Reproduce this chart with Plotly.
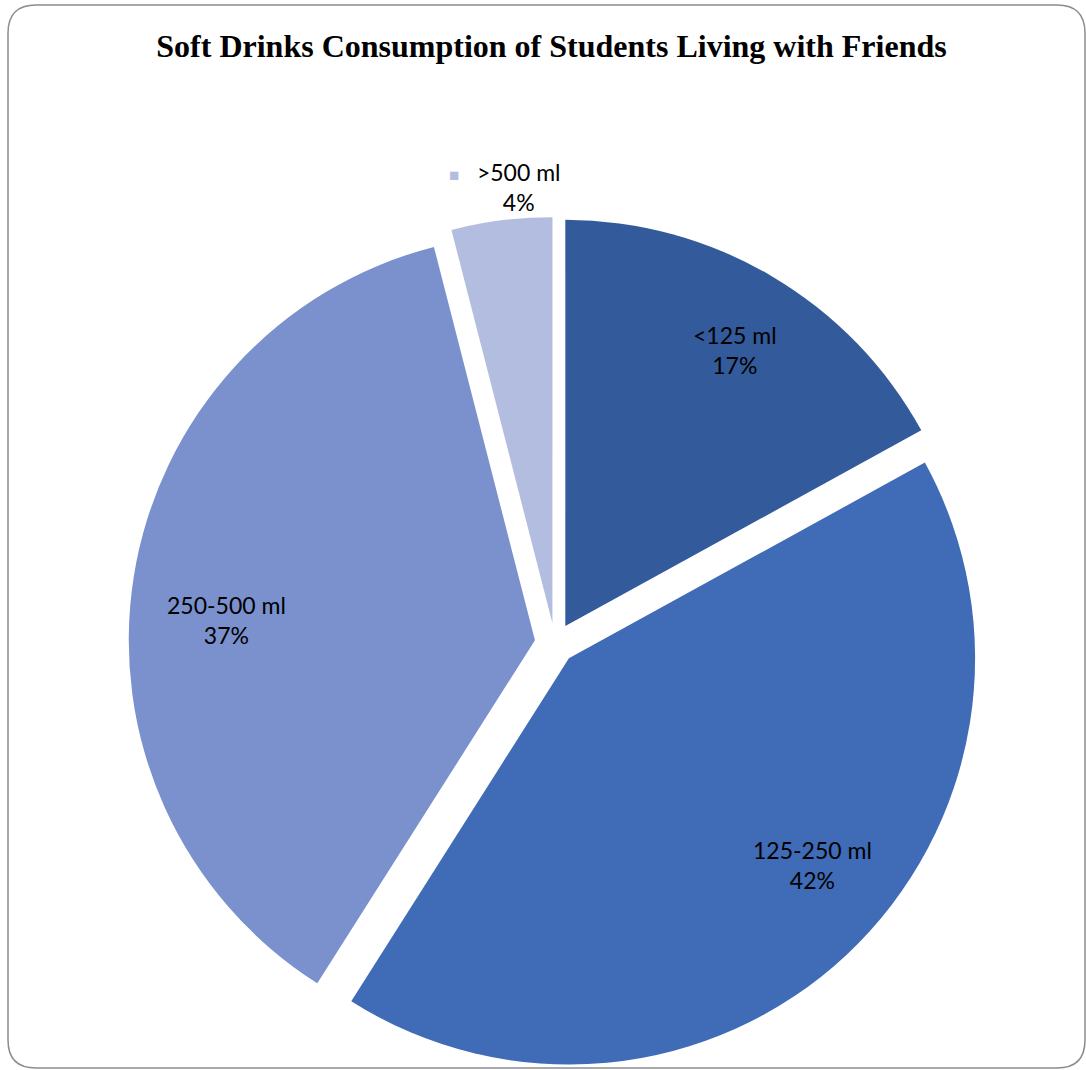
import math
import plotly.graph_objects as go

categories = ["<125 ml", "125-250 ml", "250-500 ml", ">500 ml"]
values = [17, 42, 37, 4]
colors = ["#335A9A", "#406BB7", "#7A91CE", "#B3BDE0"]
title = "Soft Drinks Consumption of Students Living with Friends"

W, H = 1086, 1070
PULL = 0.05
# label placement style: radial fraction of pie radius and small angle shift (deg)
label_radius = [0.848, 0.837, 0.81, 1.13]
label_shift = [0.9, -6.1, -4.9, 1.0]

def px(x):
    return x / W

def py(y):
    return 1 - y / H

dom_x = [px(125), px(985)]
dom_y = [py(1070), py(217)]

fig = go.Figure(go.Pie(
    labels=categories,
    values=values,
    sort=False,
    direction="clockwise",
    rotation=0,
    pull=[PULL] * len(values),
    marker=dict(colors=colors, line=dict(width=0)),
    textinfo="none",
    hoverinfo="label+percent",
    domain=dict(x=dom_x, y=dom_y),
    showlegend=False,
))

# label annotations positioned from each slice's mid-angle
cx = (dom_x[0] + dom_x[1]) / 2 * W
cy = (1 - (dom_y[0] + dom_y[1]) / 2) * H
r = min((dom_x[1] - dom_x[0]) * W, (dom_y[1] - dom_y[0]) * H) / 2 / (1 + PULL)
total = sum(values)
annotations = []
cum = 0
for i, (lab, v) in enumerate(zip(categories, values)):
    mid = (cum + v / 2) / total * 2 * math.pi + math.radians(label_shift[i])
    cum += v
    d = label_radius[i] * r
    x = cx + d * math.sin(mid)
    y = cy - d * math.cos(mid)
    pct = "%d%%" % round(100 * v / total)
    if label_radius[i] > 1:
        key = "<span style='color:%s;font-size:17px'>■</span>   " % colors[i]
        ghost = "<span style='color:rgba(0,0,0,0);font-size:17px'>■</span>   "
        text = key + lab + "<br>" + ghost + pct
    else:
        text = "%s<br>%s" % (lab, pct)
    annotations.append(dict(
        x=x / W, y=1 - y / H, xref="paper", yref="paper",
        text=text, showarrow=False, xanchor="center", yanchor="middle",
        align="center", font=dict(family="Lato", size=23, color="black"),
    ))

# rounded chart border
x0, x1, y0, y1, rr = 8, 1085, 5, 1068, 28
path = (f"M {px(x0 + rr)},{py(y0)} L {px(x1 - rr)},{py(y0)} "
        f"Q {px(x1)},{py(y0)} {px(x1)},{py(y0 + rr)} "
        f"L {px(x1)},{py(y1 - rr)} Q {px(x1)},{py(y1)} {px(x1 - rr)},{py(y1)} "
        f"L {px(x0 + rr)},{py(y1)} Q {px(x0)},{py(y1)} {px(x0)},{py(y1 - rr)} "
        f"L {px(x0)},{py(y0 + rr)} Q {px(x0)},{py(y0)} {px(x0 + rr)},{py(y0)} Z")

fig.update_layout(
    width=W, height=H, autosize=False,
    margin=dict(l=0, r=0, t=0, b=0),
    paper_bgcolor="white",
    plot_bgcolor="white",
    title=dict(text="<b>" + title + "</b>", x=px(551.5), xanchor="center", y=py(46), yanchor="middle",
               font=dict(family="Liberation Serif", size=32, color="black")),
    shapes=[dict(type="path", path=path, xref="paper", yref="paper",
                 line=dict(color="#8C8C8C", width=1.5), fillcolor="rgba(0,0,0,0)")],
    annotations=annotations,
)

fig.write_html(
    "out.html",
    config={"responsive": False, "displayModeBar": False},
    post_script="document.body.style.margin='0';document.body.style.overflow='hidden';",
)
